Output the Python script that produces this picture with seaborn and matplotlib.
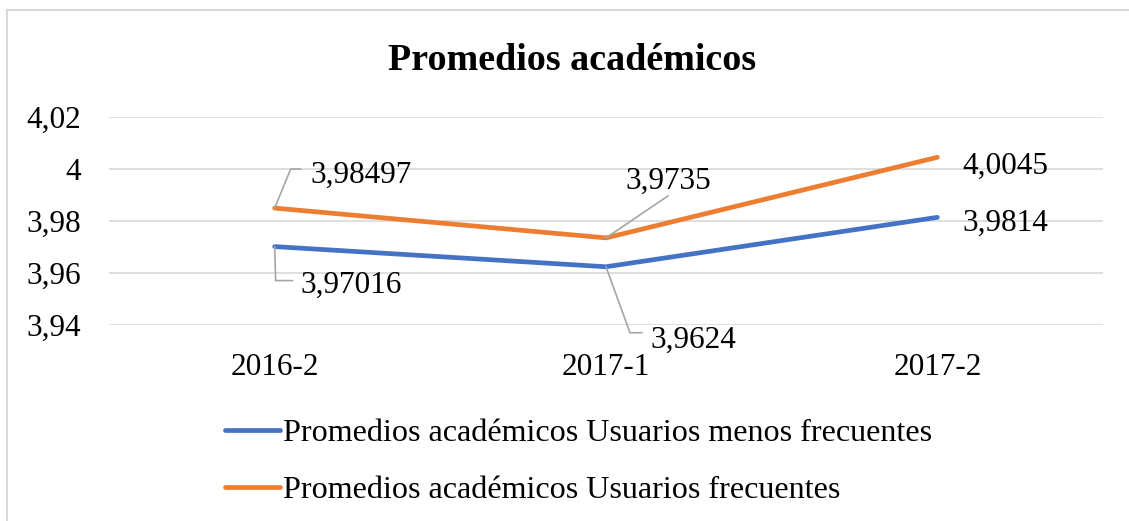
import matplotlib
matplotlib.use("Agg")
import matplotlib.pyplot as plt
import matplotlib.patches as mpatches
import numpy as np
import pandas as pd
import seaborn as sns

# datos
periodos = ["2016-2", "2017-1", "2017-2"]
menos_frecuentes = [3.97016, 3.9624, 3.9814]
frecuentes = [3.98497, 3.9735, 4.0045]
etiquetas_menos = ["3,97016", "3,9624", "3,9814"]
etiquetas_frec = ["3,98497", "3,9735", "4,0045"]
serie_menos = "Promedios académicos Usuarios menos frecuentes"
serie_frec = "Promedios académicos Usuarios frecuentes"
yticks = [3.94, 3.96, 3.98, 4.00, 4.02]
ytick_labels = ["3,94", "3,96", "3,98", "4", "4,02"]

AZUL = "#4472C4"
NARANJA = "#ED7D31"
GRIS = "#D9D9D9"

sns.set_style("white")
plt.rcParams["font.family"] = ["Liberation Serif", "DejaVu Serif"]
plt.rcParams["text.color"] = "black"
plt.rcParams["xtick.color"] = "black"
plt.rcParams["ytick.color"] = "black"

W, H = 1129, 521
fig = plt.figure(figsize=(W / 100, H / 100), dpi=100)
ax = fig.add_axes([109 / W, 1 - 325 / H, (1103 - 109) / W, (325 - 117) / H])

df = pd.DataFrame({
    "periodo": periodos * 2,
    "x": list(range(len(periodos))) * 2,
    "valor": menos_frecuentes + frecuentes,
    "serie": [serie_menos] * 3 + [serie_frec] * 3,
})
sns.lineplot(data=df, x="x", y="valor", hue="serie", ax=ax,
             palette={serie_menos: AZUL, serie_frec: NARANJA},
             linewidth=3.4, solid_capstyle="round", legend=False)

ax.set_xlim(-0.5, len(periodos) - 0.5)
ax.set_ylim(3.94, 4.02)
ax.set_yticks(yticks)
ax.set_yticklabels(ytick_labels)
ax.set_xticks(range(len(periodos)))
ax.set_xticklabels(periodos)
ax.tick_params(axis="y", length=0, pad=20, labelsize=22.5, labelcolor="black")
ax.tick_params(axis="x", length=0, pad=20, labelsize=22.5, labelcolor="black")
ax.set_xlabel("")
ax.set_ylabel("")
for s in ax.spines.values():
    s.set_visible(False)
ax.grid(axis="y", color=GRIS, linewidth=1.2)
ax.set_axisbelow(True)

# marco del grafico
fig.patches.append(mpatches.Rectangle((7 / W, -0.1), 1.2, 1 - 10 / H + 0.1,
                                      transform=fig.transFigure, fill=False,
                                      edgecolor=GRIS, linewidth=1.5))

fig.text(572 / W, 1 - 60 / H, "Promedios académicos", ha="center", va="center",
         fontsize=27.4, fontweight="bold", color="black")

# etiquetas de datos con lineas guia (desplazamientos en pixeles)
guias_menos = [[(1, 34), (18, 34)], [(24, 66), (36, 66)], None]
texto_menos = [(26, 39), (44, 74), (25, 6)]
guias_frec = [[(16, -39), (26, -39)], [(62, -42)], None]
texto_frec = [(36, -33), (19, -57), (25, 9)]

fig.canvas.draw()
for valores, etiquetas, guias, textos in [
    (menos_frecuentes, etiquetas_menos, guias_menos, texto_menos),
    (frecuentes, etiquetas_frec, guias_frec, texto_frec),
]:
    for i, (v, lab) in enumerate(zip(valores, etiquetas)):
        px, py = ax.transData.transform((i, v))
        if guias[i] is not None:
            xs = [px] + [px + dx for dx, dy in guias[i]]
            ys = [py] + [py - dy for dx, dy in guias[i]]
            fig.add_artist(plt.Line2D(xs, ys, transform=None, color="#A6A6A6",
                                      linewidth=1.2))
        tx, ty = textos[i]
        fig.text(px + tx, py - ty, lab, transform=None, ha="left", va="center",
                 fontsize=22.5, color="black")

# leyenda
handles = [plt.Line2D([], [], color=AZUL, linewidth=3.4, solid_capstyle="round"),
           plt.Line2D([], [], color=NARANJA, linewidth=3.4, solid_capstyle="round")]
leg = fig.legend(handles, [serie_menos, serie_frec], loc="upper left",
                 bbox_to_anchor=(225 / W, 1 - 419 / H), frameon=False, fontsize=23.1,
                 handlelength=1.7, handletextpad=0.12, labelspacing=0.85,
                 borderpad=0, borderaxespad=0)
for t in leg.get_texts():
    t.set_color("black")

fig.savefig("out.png", dpi=100, facecolor="white")
